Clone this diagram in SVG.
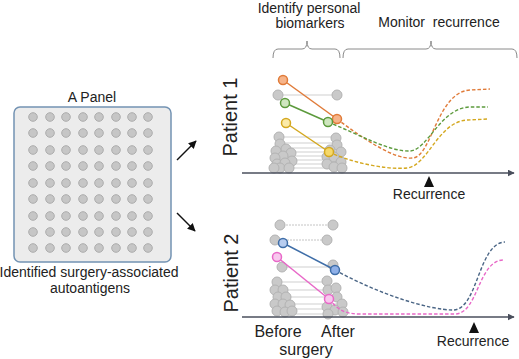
<svg xmlns="http://www.w3.org/2000/svg" width="519" height="359" viewBox="0 0 519 359">
<defs>
<style>
text{font-family:"Liberation Sans",Arial,sans-serif;fill:#222}
.t14{font-size:14px}
.t16{font-size:16px}
.pat{font-size:20px}
.pd{fill:#c6c6c6;stroke:#adadad;stroke-width:1}
.gd{fill:#c9c9c9;stroke:#b3b3b3;stroke-width:1}
.gl{stroke:#cfcfcf;stroke-width:1}
.gl2{stroke:#c4c4c4;stroke-width:1;stroke-dasharray:2 1}
.axis{stroke:#4a4f5c;stroke-width:1.6;fill:none}
.brace{stroke:#8a8a8a;stroke-width:1;fill:none}
.dash{fill:none;stroke-width:1.4;stroke-dasharray:3.5 2}
.sol{fill:none;stroke-width:1.5}
</style>
<marker id="ah" viewBox="0 0 10 10" refX="9" refY="5" markerWidth="7" markerHeight="7" orient="auto" markerUnits="userSpaceOnUse"><path d="M0,0 L10,5 L0,10 Z" fill="#4a4f5c"/></marker>
<marker id="ak" viewBox="0 0 10 10" refX="9" refY="5" markerWidth="8" markerHeight="8" orient="auto" markerUnits="userSpaceOnUse"><path d="M0,0 L10,5 L0,10 Z" fill="#111"/></marker>
</defs>
<rect width="519" height="359" fill="#fff"/>

<g id="panel">
<text class="t14" x="92" y="102" text-anchor="middle">A Panel</text>
<rect x="14" y="107" width="157" height="155" rx="6" fill="#ececec" stroke="#7393b3" stroke-width="1.5"/>
<g id="panel-dots">
<circle class="pd" cx="33" cy="117" r="4.3"/><circle class="pd" cx="50" cy="117" r="4.3"/><circle class="pd" cx="66" cy="117" r="4.3"/><circle class="pd" cx="83" cy="117" r="4.3"/><circle class="pd" cx="99" cy="117" r="4.3"/><circle class="pd" cx="116" cy="117" r="4.3"/><circle class="pd" cx="132" cy="117" r="4.3"/><circle class="pd" cx="148" cy="117" r="4.3"/>
<circle class="pd" cx="33" cy="133" r="4.3"/><circle class="pd" cx="50" cy="133" r="4.3"/><circle class="pd" cx="66" cy="133" r="4.3"/><circle class="pd" cx="83" cy="133" r="4.3"/><circle class="pd" cx="99" cy="133" r="4.3"/><circle class="pd" cx="116" cy="133" r="4.3"/><circle class="pd" cx="132" cy="133" r="4.3"/><circle class="pd" cx="148" cy="133" r="4.3"/>
<circle class="pd" cx="33" cy="150" r="4.3"/><circle class="pd" cx="50" cy="150" r="4.3"/><circle class="pd" cx="66" cy="150" r="4.3"/><circle class="pd" cx="83" cy="150" r="4.3"/><circle class="pd" cx="99" cy="150" r="4.3"/><circle class="pd" cx="116" cy="150" r="4.3"/><circle class="pd" cx="132" cy="150" r="4.3"/><circle class="pd" cx="148" cy="150" r="4.3"/>
<circle class="pd" cx="33" cy="166" r="4.3"/><circle class="pd" cx="50" cy="166" r="4.3"/><circle class="pd" cx="66" cy="166" r="4.3"/><circle class="pd" cx="83" cy="166" r="4.3"/><circle class="pd" cx="99" cy="166" r="4.3"/><circle class="pd" cx="116" cy="166" r="4.3"/><circle class="pd" cx="132" cy="166" r="4.3"/><circle class="pd" cx="148" cy="166" r="4.3"/>
<circle class="pd" cx="33" cy="183" r="4.3"/><circle class="pd" cx="50" cy="183" r="4.3"/><circle class="pd" cx="66" cy="183" r="4.3"/><circle class="pd" cx="83" cy="183" r="4.3"/><circle class="pd" cx="99" cy="183" r="4.3"/><circle class="pd" cx="116" cy="183" r="4.3"/><circle class="pd" cx="132" cy="183" r="4.3"/><circle class="pd" cx="148" cy="183" r="4.3"/>
<circle class="pd" cx="33" cy="199" r="4.3"/><circle class="pd" cx="50" cy="199" r="4.3"/><circle class="pd" cx="66" cy="199" r="4.3"/><circle class="pd" cx="83" cy="199" r="4.3"/><circle class="pd" cx="99" cy="199" r="4.3"/><circle class="pd" cx="116" cy="199" r="4.3"/><circle class="pd" cx="132" cy="199" r="4.3"/><circle class="pd" cx="148" cy="199" r="4.3"/>
<circle class="pd" cx="33" cy="216" r="4.3"/><circle class="pd" cx="50" cy="216" r="4.3"/><circle class="pd" cx="66" cy="216" r="4.3"/><circle class="pd" cx="83" cy="216" r="4.3"/><circle class="pd" cx="99" cy="216" r="4.3"/><circle class="pd" cx="116" cy="216" r="4.3"/><circle class="pd" cx="132" cy="216" r="4.3"/><circle class="pd" cx="148" cy="216" r="4.3"/>
<circle class="pd" cx="33" cy="232" r="4.3"/><circle class="pd" cx="50" cy="232" r="4.3"/><circle class="pd" cx="66" cy="232" r="4.3"/><circle class="pd" cx="83" cy="232" r="4.3"/><circle class="pd" cx="99" cy="232" r="4.3"/><circle class="pd" cx="116" cy="232" r="4.3"/><circle class="pd" cx="132" cy="232" r="4.3"/><circle class="pd" cx="148" cy="232" r="4.3"/>
<circle class="pd" cx="33" cy="248" r="4.3"/><circle class="pd" cx="50" cy="248" r="4.3"/><circle class="pd" cx="66" cy="248" r="4.3"/><circle class="pd" cx="83" cy="248" r="4.3"/><circle class="pd" cx="99" cy="248" r="4.3"/><circle class="pd" cx="116" cy="248" r="4.3"/><circle class="pd" cx="132" cy="248" r="4.3"/><circle class="pd" cx="148" cy="248" r="4.3"/>
</g>
<text class="t14" x="89" y="277" text-anchor="middle">Identified surgery-associated</text>
<text class="t14" x="90" y="293" text-anchor="middle">autoantigens</text>
</g>

<g id="connectors">
<line x1="177" y1="160" x2="196" y2="141" stroke="#111" stroke-width="1.5" marker-end="url(#ak)"/>
<line x1="177" y1="213" x2="195" y2="231" stroke="#111" stroke-width="1.5" marker-end="url(#ak)"/>
</g>

<g id="header">
<text class="t14" x="309" y="13" text-anchor="middle">Identify personal</text>
<text class="t14" x="310" y="28" text-anchor="middle">biomarkers</text>
<text class="t14" x="439" y="27" text-anchor="middle" xml:space="preserve">Monitor  recurrence</text>
<path class="brace" d="M273,58 Q273,49 278,49 L302,49 Q307,49 307,41 Q307,49 312,49 L335,49 Q340,49 340,58"/>
<path class="brace" d="M343,58 Q343,49 348,49 L426,49 Q431,49 431,41 Q431,49 436,49 L512,49 Q517,49 517,58"/>
</g>

<g id="patient1">
<text class="pat" transform="translate(237,117) rotate(-90)" text-anchor="middle">Patient 1</text>
<g id="p1-gray">
<line class="gl" x1="278" y1="95" x2="337" y2="95"/>
<line class="gl" x1="279" y1="137" x2="336" y2="137"/>
<line class="gl" x1="283" y1="143" x2="337" y2="143"/>
<line class="gl" x1="285" y1="148" x2="330" y2="148"/>
<line class="gl" x1="290" y1="152" x2="341" y2="152"/>
<line class="gl" x1="283" y1="156" x2="333" y2="156"/>
<line class="gl" x1="292" y1="160" x2="340" y2="160"/>
<line class="gl" x1="285" y1="164" x2="327" y2="164"/>
<line class="gl" x1="288" y1="168" x2="334" y2="168"/>
<circle class="gd" cx="278" cy="95" r="5"/><circle class="gd" cx="337" cy="95" r="5"/>
<circle class="gd" cx="279" cy="137" r="5"/><circle class="gd" cx="280" cy="144" r="5"/><circle class="gd" cx="286" cy="149" r="5"/><circle class="gd" cx="276" cy="151" r="5"/><circle class="gd" cx="291" cy="153" r="5"/><circle class="gd" cx="283" cy="156" r="5"/><circle class="gd" cx="275" cy="158" r="5"/><circle class="gd" cx="292" cy="161" r="5"/><circle class="gd" cx="277" cy="164" r="5"/><circle class="gd" cx="285" cy="163" r="5"/><circle class="gd" cx="280" cy="168" r="5"/><circle class="gd" cx="289" cy="168" r="5"/><circle class="gd" cx="274" cy="168" r="5"/>
<circle class="gd" cx="336" cy="138" r="5"/><circle class="gd" cx="337" cy="145" r="5"/><circle class="gd" cx="330" cy="150" r="5"/><circle class="gd" cx="341" cy="152" r="5"/><circle class="gd" cx="327" cy="157" r="5"/><circle class="gd" cx="334" cy="157" r="5"/><circle class="gd" cx="341" cy="162" r="5"/><circle class="gd" cx="327" cy="164" r="5"/><circle class="gd" cx="334" cy="167" r="5"/><circle class="gd" cx="342" cy="168" r="5"/>
</g>
<line class="axis" x1="242" y1="173" x2="514" y2="173" marker-end="url(#ah)"/>
<path d="M429,176 L434,187 L424,187 Z" fill="#111"/>
<text class="t14" x="429" y="199" text-anchor="middle">Recurrence</text>
<path class="dash" stroke="#e07b39" d="M337,119 C365,140 395,160 413,158 C432,156 437,92 470,90 L490,89"/>
<path class="dash" stroke="#5c9a3c" d="M328,122 C360,135 390,152 410,151 C428,150 440,108 470,107 L488,107"/>
<path class="dash" stroke="#d4a820" d="M329,152 C350,162 385,170 407,168 C428,166 438,121 468,120 L488,119"/>
<line class="sol" stroke="#e07b39" x1="283" y1="80" x2="337" y2="119"/>
<line class="sol" stroke="#5c9a3c" x1="285" y1="103" x2="328" y2="122"/>
<line class="sol" stroke="#d4a820" x1="286" y1="123" x2="329" y2="152"/>
<circle cx="283" cy="80" r="4.5" fill="#f6b48a" stroke="#e07b39" stroke-width="1.5"/>
<circle cx="337" cy="119" r="4.5" fill="#f6b48a" stroke="#e07b39" stroke-width="1.5"/>
<circle cx="285" cy="103" r="4.5" fill="#cfe6bf" stroke="#5c9a3c" stroke-width="1.5"/>
<circle cx="328" cy="122" r="4.5" fill="#cfe6bf" stroke="#5c9a3c" stroke-width="1.5"/>
<circle cx="286" cy="123" r="4.5" fill="#fbeaa8" stroke="#d4a820" stroke-width="1.5"/>
<circle cx="329" cy="152" r="4.5" fill="#f5d86a" stroke="#d4a820" stroke-width="1.5"/>
</g>

<g id="patient2">
<text class="pat" transform="translate(238,273) rotate(-90)" text-anchor="middle">Patient 2</text>
<g id="p2-gray">
<line class="gl2" x1="280" y1="225" x2="333" y2="225"/>
<line class="gl2" x1="275" y1="240" x2="327" y2="240"/>
<line class="gl" x1="282" y1="267" x2="333" y2="267"/>
<line class="gl" x1="277" y1="282" x2="327" y2="282"/>
<line class="gl" x1="283" y1="290" x2="328" y2="290"/>
<line class="gl" x1="286" y1="297" x2="337" y2="297"/>
<line class="gl" x1="290" y1="304" x2="342" y2="304"/>
<line class="gl" x1="285" y1="309" x2="327" y2="309"/>
<line class="gl" x1="292" y1="314" x2="335" y2="314"/>
<circle class="gd" cx="280" cy="225" r="5"/><circle class="gd" cx="333" cy="225" r="5"/>
<circle class="gd" cx="275" cy="240" r="5"/><circle class="gd" cx="327" cy="240" r="5"/>
<circle class="gd" cx="282" cy="267" r="5"/><circle class="gd" cx="333" cy="265" r="5"/>
<circle class="gd" cx="277" cy="282" r="5"/><circle class="gd" cx="327" cy="281" r="5"/>
<circle class="gd" cx="275" cy="290" r="5"/><circle class="gd" cx="283" cy="290" r="5"/><circle class="gd" cx="278" cy="297" r="5"/><circle class="gd" cx="286" cy="297" r="5"/><circle class="gd" cx="275" cy="304" r="5"/><circle class="gd" cx="283" cy="304" r="5"/><circle class="gd" cx="290" cy="305" r="5"/><circle class="gd" cx="277" cy="311" r="5"/><circle class="gd" cx="285" cy="312" r="5"/><circle class="gd" cx="292" cy="311" r="5"/>
<circle class="gd" cx="328" cy="290" r="5"/><circle class="gd" cx="336" cy="288" r="5"/><circle class="gd" cx="337" cy="297" r="5"/><circle class="gd" cx="342" cy="304" r="5"/><circle class="gd" cx="327" cy="307" r="5"/><circle class="gd" cx="335" cy="310" r="5"/><circle class="gd" cx="328" cy="314" r="5"/><circle class="gd" cx="343" cy="312" r="5"/>
</g>
<line class="axis" x1="242" y1="317" x2="514" y2="317" marker-end="url(#ah)"/>
<path d="M474,322 L479,333 L469,333 Z" fill="#111"/>
<text class="t14" x="473" y="346" text-anchor="middle">Recurrence</text>
<path class="dash" stroke="#4a6585" d="M335,270 C380,295 430,310 453,310 C478,310 478,243 505,242"/>
<path class="dash" stroke="#e868c8" d="M329,299 C338,310 345,314 360,314 L455,314 C478,314 478,261 503,260"/>
<line class="sol" stroke="#3f6ea8" x1="283" y1="243" x2="335" y2="270"/>
<line class="sol" stroke="#e868c8" x1="277" y1="257" x2="329" y2="299"/>
<circle cx="283" cy="243" r="4.5" fill="#b8cdf0" stroke="#3f6ea8" stroke-width="1.5"/>
<circle cx="335" cy="270" r="4.5" fill="#8fb0e8" stroke="#3f6ea8" stroke-width="1.5"/>
<circle cx="277" cy="257" r="4.5" fill="#f8c8ee" stroke="#e868c8" stroke-width="1.5"/>
<circle cx="329" cy="299" r="4.5" fill="#f8c8ee" stroke="#e868c8" stroke-width="1.5"/>
<text class="t16" x="278" y="337" text-anchor="middle">Before</text>
<text class="t16" x="338" y="337" text-anchor="middle">After</text>
<text class="t16" x="306" y="355" text-anchor="middle">surgery</text>
</g>
</svg>
